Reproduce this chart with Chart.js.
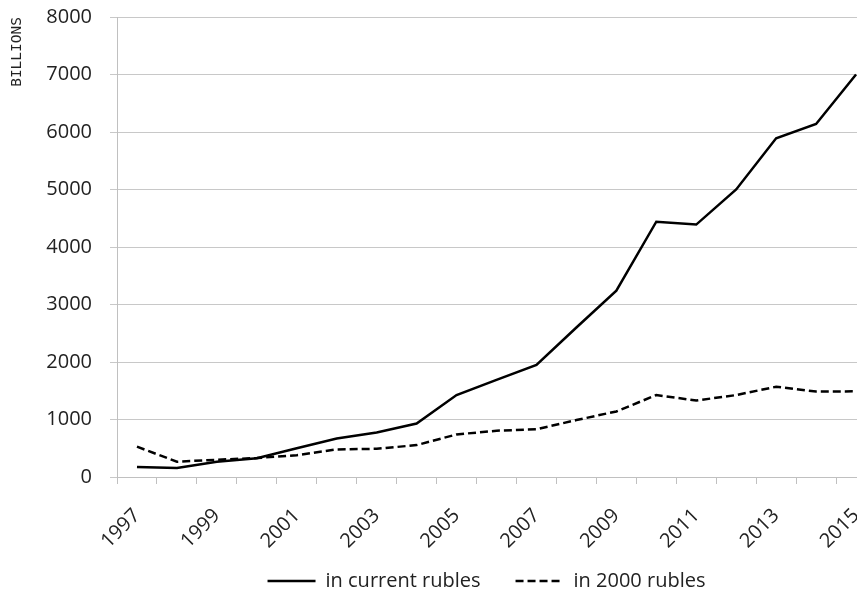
<!DOCTYPE html>
<html>
<head>
<meta charset="utf-8">
<script src="https://cdn.jsdelivr.net/npm/chart.js@4.4.1/dist/chart.umd.min.js"></script>
<style>
  html, body { margin: 0; padding: 0; overflow: hidden; background: #fff; }
  #wrap { width: 893px; height: 595px; }
</style>
</head>
<body>
<div id="wrap"><canvas id="lineChart"></canvas></div>
<script>
  // years on the x axis
  const years = ['1997', '1998', '1999', '2000', '2001', '2002', '2003', '2004', '2005', '2006',
    '2007', '2008', '2009', '2010', '2011', '2012', '2013', '2014', '2015'];

  // billions, in current rubles
  const currentRubles = [175, 155, 265, 325, 500, 670, 775, 930, 1425, 1690,
    1950, 2600, 3240, 4440, 4390, 5000, 5890, 6140, 7000];

  // billions, in 2000 rubles
  const rubles2000 = [527, 266, 300, 330, 380, 480, 490, 555, 740, 805,
    830, 990, 1140, 1425, 1330, 1425, 1570, 1485, 1490];

  const seriesNames = ['in current rubles', 'in 2000 rubles'];
  const yTicks = [0, 1000, 2000, 3000, 4000, 5000, 6000, 7000, 8000];

  // the legend in the original sits a little right of centre and close under the labels
  // (only the top moves up, the legend clips to its own box)
  const legendShift = {
    id: 'legendShift',
    afterLayout(chart) {
      const lg = chart.legend;
      lg.left += 40;
      lg.right += 40;
      lg.top -= 13;
    }
  };

  const ctx = document.getElementById('lineChart').getContext('2d');
  const myChart = new Chart(ctx, {
    type: 'line',
    data: {
      labels: years,
      datasets: [{
        label: seriesNames[0],
        data: currentRubles,
        borderColor: '#000',
        backgroundColor: '#000',
        borderWidth: 2.5,
        pointRadius: 0,
        tension: 0
      }, {
        label: seriesNames[1],
        data: rubles2000,
        borderColor: '#000',
        backgroundColor: '#000',
        borderWidth: 2.5,
        borderDash: [8, 4],
        pointRadius: 0,
        tension: 0
      }]
    },
    options: {
      responsive: true,
      maintainAspectRatio: false,
      animation: false,
      layout: { padding: { top: 0, right: 0, bottom: 0, left: 0 } },
      plugins: {
        tooltip: { enabled: false },
        legend: {
          position: 'bottom',
          maxHeight: 46,
          labels: {
            usePointStyle: true,
            pointStyle: 'line',
            pointStyleWidth: 48,
            color: '#222',
            padding: 35,
            font: { family: 'Open Sans', size: 20 },
            // point style legends drop the dash, put it back
            generateLabels: (chart) => {
              const items = Chart.defaults.plugins.legend.labels.generateLabels(chart);
              items.forEach((item, i) => {
                item.lineDash = chart.data.datasets[i].borderDash || [];
                item.lineWidth = 2.5;
              });
              return items;
            }
          }
        }
      },
      scales: {
        x: {
          offset: true,
          afterFit: (axis) => { axis.height = 72; },
          grid: {
            offset: true,
            drawOnChartArea: false,
            drawTicks: true,
            tickLength: 7,
            color: '#c0c0c0'
          },
          border: { color: '#c0c0c0' },
          ticks: {
            autoSkip: false,
            maxRotation: 45,
            minRotation: 45,
            padding: 20,
            color: '#222',
            font: { family: 'Open Sans', size: 20 },
            callback: function (value, index) {
              return index % 2 === 0 ? this.getLabelForValue(value) : '';
            }
          }
        },
        y: {
          min: yTicks[0],
          max: yTicks[yTicks.length - 1],
          afterBuildTicks: (axis) => { axis.ticks = yTicks.map(v => ({ value: v })); },
          afterFit: (axis) => {
            axis.width = 117;
            axis.paddingTop = 17; // tick padding would otherwise push the top down
          },
          grid: { color: '#c8c8c8', tickLength: 7 },
          border: { color: '#c0c0c0' },
          ticks: {
            padding: 18,
            color: '#222',
            font: { family: 'Open Sans', size: 20 },
            callback: (value) => String(value)
          },
          title: {
            display: true,
            text: 'BILLIONS',
            align: 'end',
            color: '#222',
            padding: { top: 9, bottom: 0 },
            font: { family: 'DejaVu Sans Mono', size: 14.5 }
          }
        }
      }
    },
    plugins: [legendShift]
  });
</script>
</body>
</html>
